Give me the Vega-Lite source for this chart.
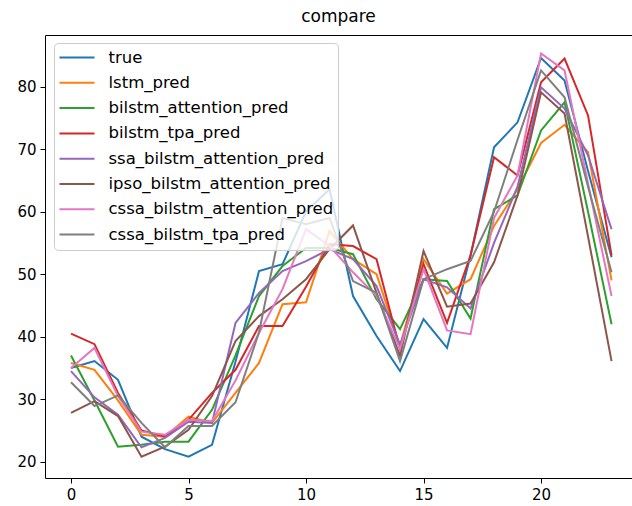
{
  "$schema": "https://vega.github.io/schema/vega-lite/v6.json",
  "autosize": {"type": "none"},
  "padding": {"left": 45, "top": 35, "right": 0, "bottom": 28},
  "width": 587,
  "height": 443,
  "background": "white",
  "title": {"text": "compare", "fontSize": 17, "font": "DejaVu Sans", "fontWeight": "normal", "color": "black", "offset": 9, "anchor": "middle"},
  "config": {
    "view": {"stroke": "black", "strokeWidth": 1},
    "font": "DejaVu Sans",
    "axis": {"domain": false, "grid": false, "tickColor": "black", "tickSize": 5, "labelColor": "black", "labelFontSize": 15, "labelFont": "DejaVu Sans", "labelPadding": 4, "title": null}
  },
  "data": {"values": [
    {"x":0,"s":"true","v":35.0},{"x":0,"s":"lstm_pred","v":35.8},{"x":0,"s":"bilstm_attention_pred","v":37.0},{"x":0,"s":"bilstm_tpa_pred","v":40.5},{"x":0,"s":"ssa_bilstm_attention_pred","v":34.5},{"x":0,"s":"ipso_bilstm_attention_pred","v":27.8},{"x":0,"s":"cssa_bilstm_attention_pred","v":35.0},{"x":0,"s":"cssa_bilstm_tpa_pred","v":32.7},
    {"x":1,"s":"true","v":36.1},{"x":1,"s":"lstm_pred","v":34.7},{"x":1,"s":"bilstm_attention_pred","v":29.8},{"x":1,"s":"bilstm_tpa_pred","v":38.8},{"x":1,"s":"ssa_bilstm_attention_pred","v":30.3},{"x":1,"s":"ipso_bilstm_attention_pred","v":29.7},{"x":1,"s":"cssa_bilstm_attention_pred","v":38.2},{"x":1,"s":"cssa_bilstm_tpa_pred","v":28.9},
    {"x":2,"s":"true","v":33.1},{"x":2,"s":"lstm_pred","v":29.8},{"x":2,"s":"bilstm_attention_pred","v":22.4},{"x":2,"s":"bilstm_tpa_pred","v":31.0},{"x":2,"s":"ssa_bilstm_attention_pred","v":27.5},{"x":2,"s":"ipso_bilstm_attention_pred","v":27.3},{"x":2,"s":"cssa_bilstm_attention_pred","v":30.5},{"x":2,"s":"cssa_bilstm_tpa_pred","v":30.6},
    {"x":3,"s":"true","v":24.0},{"x":3,"s":"lstm_pred","v":24.3},{"x":3,"s":"bilstm_attention_pred","v":22.7},{"x":3,"s":"bilstm_tpa_pred","v":25.0},{"x":3,"s":"ssa_bilstm_attention_pred","v":22.3},{"x":3,"s":"ipso_bilstm_attention_pred","v":20.8},{"x":3,"s":"cssa_bilstm_attention_pred","v":24.8},{"x":3,"s":"cssa_bilstm_tpa_pred","v":26.2},
    {"x":4,"s":"true","v":22.0},{"x":4,"s":"lstm_pred","v":24.0},{"x":4,"s":"bilstm_attention_pred","v":23.2},{"x":4,"s":"bilstm_tpa_pred","v":24.0},{"x":4,"s":"ssa_bilstm_attention_pred","v":23.8},{"x":4,"s":"ipso_bilstm_attention_pred","v":22.4},{"x":4,"s":"cssa_bilstm_attention_pred","v":24.3},{"x":4,"s":"cssa_bilstm_tpa_pred","v":22.3},
    {"x":5,"s":"true","v":20.8},{"x":5,"s":"lstm_pred","v":27.2},{"x":5,"s":"bilstm_attention_pred","v":23.2},{"x":5,"s":"bilstm_tpa_pred","v":26.7},{"x":5,"s":"ssa_bilstm_attention_pred","v":26.4},{"x":5,"s":"ipso_bilstm_attention_pred","v":25.1},{"x":5,"s":"cssa_bilstm_attention_pred","v":26.7},{"x":5,"s":"cssa_bilstm_tpa_pred","v":25.7},
    {"x":6,"s":"true","v":22.7},{"x":6,"s":"lstm_pred","v":26.2},{"x":6,"s":"bilstm_attention_pred","v":28.3},{"x":6,"s":"bilstm_tpa_pred","v":31.0},{"x":6,"s":"ssa_bilstm_attention_pred","v":26.2},{"x":6,"s":"ipso_bilstm_attention_pred","v":30.5},{"x":6,"s":"cssa_bilstm_attention_pred","v":26.5},{"x":6,"s":"cssa_bilstm_tpa_pred","v":25.7},
    {"x":7,"s":"true","v":36.0},{"x":7,"s":"lstm_pred","v":31.0},{"x":7,"s":"bilstm_attention_pred","v":37.0},{"x":7,"s":"bilstm_tpa_pred","v":34.7},{"x":7,"s":"ssa_bilstm_attention_pred","v":42.2},{"x":7,"s":"ipso_bilstm_attention_pred","v":39.3},{"x":7,"s":"cssa_bilstm_attention_pred","v":33.0},{"x":7,"s":"cssa_bilstm_tpa_pred","v":29.5},
    {"x":8,"s":"true","v":50.5},{"x":8,"s":"lstm_pred","v":35.8},{"x":8,"s":"bilstm_attention_pred","v":46.5},{"x":8,"s":"bilstm_tpa_pred","v":41.7},{"x":8,"s":"ssa_bilstm_attention_pred","v":47.0},{"x":8,"s":"ipso_bilstm_attention_pred","v":43.3},{"x":8,"s":"cssa_bilstm_attention_pred","v":40.6},{"x":8,"s":"cssa_bilstm_tpa_pred","v":40.7},
    {"x":9,"s":"true","v":51.6},{"x":9,"s":"lstm_pred","v":45.2},{"x":9,"s":"bilstm_attention_pred","v":51.3},{"x":9,"s":"bilstm_tpa_pred","v":41.7},{"x":9,"s":"ssa_bilstm_attention_pred","v":50.5},{"x":9,"s":"ipso_bilstm_attention_pred","v":46.0},{"x":9,"s":"cssa_bilstm_attention_pred","v":47.6},{"x":9,"s":"cssa_bilstm_tpa_pred","v":59.0},
    {"x":10,"s":"true","v":60.0},{"x":10,"s":"lstm_pred","v":45.5},{"x":10,"s":"bilstm_attention_pred","v":54.2},{"x":10,"s":"bilstm_tpa_pred","v":48.0},{"x":10,"s":"ssa_bilstm_attention_pred","v":52.1},{"x":10,"s":"ipso_bilstm_attention_pred","v":49.2},{"x":10,"s":"cssa_bilstm_attention_pred","v":57.2},{"x":10,"s":"cssa_bilstm_tpa_pred","v":58.0},
    {"x":11,"s":"true","v":63.6},{"x":11,"s":"lstm_pred","v":56.9},{"x":11,"s":"bilstm_attention_pred","v":54.2},{"x":11,"s":"bilstm_tpa_pred","v":54.8},{"x":11,"s":"ssa_bilstm_attention_pred","v":54.0},{"x":11,"s":"ipso_bilstm_attention_pred","v":54.0},{"x":11,"s":"cssa_bilstm_attention_pred","v":54.5},{"x":11,"s":"cssa_bilstm_tpa_pred","v":59.0},
    {"x":12,"s":"true","v":46.5},{"x":12,"s":"lstm_pred","v":52.4},{"x":12,"s":"bilstm_attention_pred","v":53.2},{"x":12,"s":"bilstm_tpa_pred","v":54.5},{"x":12,"s":"ssa_bilstm_attention_pred","v":52.4},{"x":12,"s":"ipso_bilstm_attention_pred","v":57.8},{"x":12,"s":"cssa_bilstm_attention_pred","v":50.3},{"x":12,"s":"cssa_bilstm_tpa_pred","v":48.9},
    {"x":13,"s":"true","v":40.1},{"x":13,"s":"lstm_pred","v":50.0},{"x":13,"s":"bilstm_attention_pred","v":46.0},{"x":13,"s":"bilstm_tpa_pred","v":52.4},{"x":13,"s":"ssa_bilstm_attention_pred","v":48.1},{"x":13,"s":"ipso_bilstm_attention_pred","v":47.0},{"x":13,"s":"cssa_bilstm_attention_pred","v":46.5},{"x":13,"s":"cssa_bilstm_tpa_pred","v":47.0},
    {"x":14,"s":"true","v":34.5},{"x":14,"s":"lstm_pred","v":38.5},{"x":14,"s":"bilstm_attention_pred","v":41.2},{"x":14,"s":"bilstm_tpa_pred","v":38.0},{"x":14,"s":"ssa_bilstm_attention_pred","v":38.7},{"x":14,"s":"ipso_bilstm_attention_pred","v":36.9},{"x":14,"s":"cssa_bilstm_attention_pred","v":38.0},{"x":14,"s":"cssa_bilstm_tpa_pred","v":36.1},
    {"x":15,"s":"true","v":42.8},{"x":15,"s":"lstm_pred","v":52.4},{"x":15,"s":"bilstm_attention_pred","v":49.2},{"x":15,"s":"bilstm_tpa_pred","v":51.6},{"x":15,"s":"ssa_bilstm_attention_pred","v":49.2},{"x":15,"s":"ipso_bilstm_attention_pred","v":53.7},{"x":15,"s":"cssa_bilstm_attention_pred","v":50.8},{"x":15,"s":"cssa_bilstm_tpa_pred","v":49.2},
    {"x":16,"s":"true","v":38.2},{"x":16,"s":"lstm_pred","v":46.9},{"x":16,"s":"bilstm_attention_pred","v":48.9},{"x":16,"s":"bilstm_tpa_pred","v":42.2},{"x":16,"s":"ssa_bilstm_attention_pred","v":47.9},{"x":16,"s":"ipso_bilstm_attention_pred","v":44.8},{"x":16,"s":"cssa_bilstm_attention_pred","v":41.0},{"x":16,"s":"cssa_bilstm_tpa_pred","v":50.8},
    {"x":17,"s":"true","v":53.0},{"x":17,"s":"lstm_pred","v":49.2},{"x":17,"s":"bilstm_attention_pred","v":42.9},{"x":17,"s":"bilstm_tpa_pred","v":53.0},{"x":17,"s":"ssa_bilstm_attention_pred","v":44.5},{"x":17,"s":"ipso_bilstm_attention_pred","v":45.3},{"x":17,"s":"cssa_bilstm_attention_pred","v":40.4},{"x":17,"s":"cssa_bilstm_tpa_pred","v":52.1},
    {"x":18,"s":"true","v":70.3},{"x":18,"s":"lstm_pred","v":57.7},{"x":18,"s":"bilstm_attention_pred","v":60.4},{"x":18,"s":"bilstm_tpa_pred","v":68.7},{"x":18,"s":"ssa_bilstm_attention_pred","v":55.0},{"x":18,"s":"ipso_bilstm_attention_pred","v":51.9},{"x":18,"s":"cssa_bilstm_attention_pred","v":59.0},{"x":18,"s":"cssa_bilstm_tpa_pred","v":60.0},
    {"x":19,"s":"true","v":74.3},{"x":19,"s":"lstm_pred","v":63.6},{"x":19,"s":"bilstm_attention_pred","v":62.6},{"x":19,"s":"bilstm_tpa_pred","v":65.8},{"x":19,"s":"ssa_bilstm_attention_pred","v":64.0},{"x":19,"s":"ipso_bilstm_attention_pred","v":62.6},{"x":19,"s":"cssa_bilstm_attention_pred","v":65.8},{"x":19,"s":"cssa_bilstm_tpa_pred","v":71.5},
    {"x":20,"s":"true","v":84.6},{"x":20,"s":"lstm_pred","v":71.0},{"x":20,"s":"bilstm_attention_pred","v":73.0},{"x":20,"s":"bilstm_tpa_pred","v":80.7},{"x":20,"s":"ssa_bilstm_attention_pred","v":79.9},{"x":20,"s":"ipso_bilstm_attention_pred","v":79.1},{"x":20,"s":"cssa_bilstm_attention_pred","v":85.3},{"x":20,"s":"cssa_bilstm_tpa_pred","v":82.6},
    {"x":21,"s":"true","v":81.0},{"x":21,"s":"lstm_pred","v":73.9},{"x":21,"s":"bilstm_attention_pred","v":77.5},{"x":21,"s":"bilstm_tpa_pred","v":84.5},{"x":21,"s":"ssa_bilstm_attention_pred","v":76.5},{"x":21,"s":"ipso_bilstm_attention_pred","v":75.7},{"x":21,"s":"cssa_bilstm_attention_pred","v":82.6},{"x":21,"s":"cssa_bilstm_tpa_pred","v":78.3},
    {"x":22,"s":"true","v":66.5},{"x":22,"s":"lstm_pred","v":69.5},{"x":22,"s":"bilstm_attention_pred","v":60.0},{"x":22,"s":"bilstm_tpa_pred","v":75.4},{"x":22,"s":"ssa_bilstm_attention_pred","v":69.0},{"x":22,"s":"ipso_bilstm_attention_pred","v":56.0},{"x":22,"s":"cssa_bilstm_attention_pred","v":64.5},{"x":22,"s":"cssa_bilstm_tpa_pred","v":64.0},
    {"x":23,"s":"true","v":52.7},{"x":23,"s":"lstm_pred","v":49.0},{"x":23,"s":"bilstm_attention_pred","v":42.0},{"x":23,"s":"bilstm_tpa_pred","v":53.0},{"x":23,"s":"ssa_bilstm_attention_pred","v":57.2},{"x":23,"s":"ipso_bilstm_attention_pred","v":36.1},{"x":23,"s":"cssa_bilstm_attention_pred","v":46.5},{"x":23,"s":"cssa_bilstm_tpa_pred","v":50.3}
  ]},
  "mark": {"type": "line", "strokeWidth": 2, "clip": true},
  "encoding": {
    "x": {"field": "x", "type": "quantitative", "scale": {"domain": [-1.106, 23.87], "nice": false, "zero": false}, "axis": {"values": [0, 5, 10, 15, 20], "format": "d"}},
    "y": {"field": "v", "type": "quantitative", "scale": {"domain": [17.39, 88.27], "nice": false, "zero": false}, "axis": {"values": [20, 30, 40, 50, 60, 70, 80], "format": "d"}},
    "color": {
      "field": "s", "type": "nominal",
      "scale": {
        "domain": ["true", "lstm_pred", "bilstm_attention_pred", "bilstm_tpa_pred", "ssa_bilstm_attention_pred", "ipso_bilstm_attention_pred", "cssa_bilstm_attention_pred", "cssa_bilstm_tpa_pred"],
        "range": ["#1f77b4", "#ff7f0e", "#2ca02c", "#d62728", "#9467bd", "#8c564b", "#e377c2", "#7f7f7f"]
      },
      "legend": {
        "orient": "none", "legendX": 9, "legendY": 8, "title": null,
        "symbolType": "stroke", "symbolSize": 1225, "symbolStrokeWidth": 2,
        "labelFontSize": 16.5, "labelFont": "DejaVu Sans", "labelColor": "black", "labelOffset": 13, "labelLimit": 400,
        "clipHeight": 20,
        "fillColor": "rgba(255,255,255,0.8)", "strokeColor": "#cccccc", "cornerRadius": 4, "padding": 4.5, "rowPadding": 5.3
      }
    }
  }
}
